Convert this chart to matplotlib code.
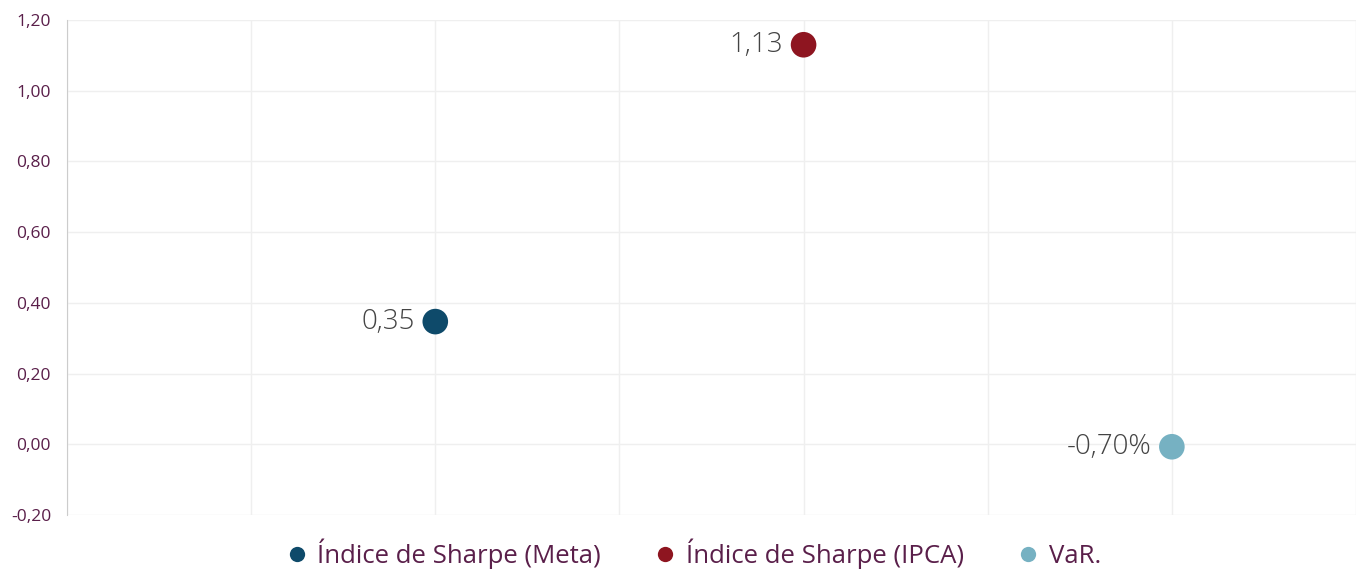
import matplotlib.pyplot as plt
from matplotlib.ticker import FuncFormatter, MultipleLocator
from matplotlib.lines import Line2D

# data
series = ["Índice de Sharpe (Meta)", "Índice de Sharpe (IPCA)", "VaR."]
x_vals = [2, 4, 6]
y_vals = [0.347, 1.13, -0.007]
labels = ["0,35", "1,13", "-0,70%"]
colors = ["#0e4a6a", "#8e1520", "#76b1c2"]

plt.rcParams['font.family'] = ['Open Sans', 'DejaVu Sans']

fig = plt.figure(figsize=(13.63, 5.69), dpi=100)
ax = fig.add_axes([67 / 1363, 1 - 515 / 569, (1356 - 67) / 1363, (515 - 20) / 569])

for xv, yv, lab, c in zip(x_vals, y_vals, labels, colors):
    ax.scatter([xv], [yv], s=340, color=c, zorder=3, edgecolors='none')
    ax.annotate(lab, (xv, yv), xytext=(-15, 0), textcoords='offset points',
                ha='right', va='center', fontsize=20, color='#444444',
                fontweight='light')

ax.set_xlim(0, 7)
ax.set_ylim(-0.2, 1.2)
ax.xaxis.set_major_locator(MultipleLocator(1))
ax.yaxis.set_major_locator(MultipleLocator(0.2))
ax.yaxis.set_major_formatter(FuncFormatter(lambda v, p: f"{v:.2f}".replace('.', ',').replace('-0,00', '0,00')))
ax.grid(True, color='#efefef', linewidth=1)
ax.set_axisbelow(True)
ax.tick_params(axis='x', bottom=False, labelbottom=False)
ax.tick_params(axis='y', left=False, labelsize=12.5, labelcolor='#5a1f4a', pad=8)
for sp in ['top', 'right', 'bottom']:
    ax.spines[sp].set_visible(False)
ax.spines['left'].set_color('#cccccc')

handles = [Line2D([], [], marker='o', linestyle='none', markersize=11,
                  markerfacecolor=c, markeredgecolor='none') for c in colors]
fig.legend(handles, series, loc='lower center', bbox_to_anchor=(0.509, -0.04), ncol=3,
           frameon=False, fontsize=18.5, labelcolor='#5a1f4a', handlelength=0.8,
           handletextpad=0.4, columnspacing=2.1)

fig.savefig('out.png', dpi=100)
